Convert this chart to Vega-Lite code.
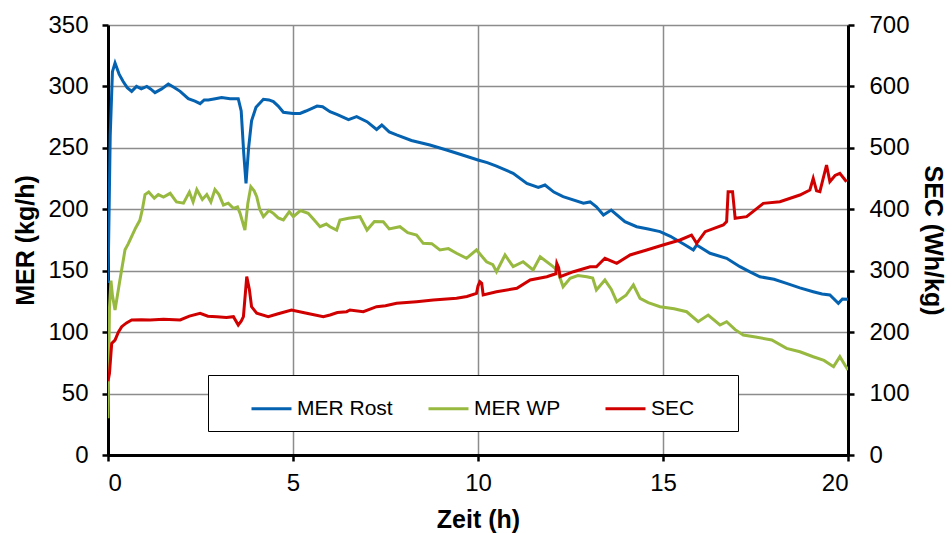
{
  "$schema": "https://vega.github.io/schema/vega-lite/v6.json",
  "width": 740,
  "height": 430,
  "autosize": "none",
  "padding": {"left": 108, "top": 25, "right": 104, "bottom": 78},
  "background": "white",
  "config": {
    "view": {"stroke": null},
    "font": "Liberation Sans",
    "axis": {
      "labelFont": "Liberation Sans",
      "titleFont": "Liberation Sans",
      "labelFontSize": 24,
      "titleFontSize": 25,
      "titleFontWeight": "bold",
      "labelColor": "black",
      "titleColor": "black",
      "domainColor": "black",
      "domainWidth": 3,
      "tickColor": "black",
      "tickWidth": 2.5,
      "tickSize": 6,
      "gridColor": "#8c8c8c",
      "gridWidth": 1.5,
      "gridOpacity": 1
    }
  },
  "data": {
    "values": [
      {"t":0,"v":140,"s":"MER Rost"},{"t":0.06,"v":260,"s":"MER Rost"},{"t":0.12,"v":312,"s":"MER Rost"},{"t":0.19,"v":319,"s":"MER Rost"},{"t":0.3,"v":310,"s":"MER Rost"},{"t":0.41,"v":304,"s":"MER Rost"},{"t":0.52,"v":299,"s":"MER Rost"},{"t":0.64,"v":296,"s":"MER Rost"},{"t":0.77,"v":300,"s":"MER Rost"},{"t":0.9,"v":298,"s":"MER Rost"},{"t":1.05,"v":300,"s":"MER Rost"},{"t":1.15,"v":298,"s":"MER Rost"},{"t":1.27,"v":295,"s":"MER Rost"},{"t":1.45,"v":298,"s":"MER Rost"},{"t":1.63,"v":302,"s":"MER Rost"},{"t":1.8,"v":299,"s":"MER Rost"},{"t":1.95,"v":296,"s":"MER Rost"},{"t":2.17,"v":290,"s":"MER Rost"},{"t":2.35,"v":288,"s":"MER Rost"},{"t":2.49,"v":286,"s":"MER Rost"},{"t":2.6,"v":289,"s":"MER Rost"},{"t":2.71,"v":289,"s":"MER Rost"},{"t":2.9,"v":290,"s":"MER Rost"},{"t":3.07,"v":291,"s":"MER Rost"},{"t":3.3,"v":290,"s":"MER Rost"},{"t":3.52,"v":290,"s":"MER Rost"},{"t":3.6,"v":280,"s":"MER Rost"},{"t":3.67,"v":245,"s":"MER Rost"},{"t":3.73,"v":221,"s":"MER Rost"},{"t":3.8,"v":250,"s":"MER Rost"},{"t":3.88,"v":272,"s":"MER Rost"},{"t":4.0,"v":283,"s":"MER Rost"},{"t":4.2,"v":289.5,"s":"MER Rost"},{"t":4.35,"v":289,"s":"MER Rost"},{"t":4.47,"v":287.6,"s":"MER Rost"},{"t":4.6,"v":284,"s":"MER Rost"},{"t":4.74,"v":279,"s":"MER Rost"},{"t":5.0,"v":278,"s":"MER Rost"},{"t":5.19,"v":278,"s":"MER Rost"},{"t":5.35,"v":280,"s":"MER Rost"},{"t":5.5,"v":282,"s":"MER Rost"},{"t":5.65,"v":284,"s":"MER Rost"},{"t":5.8,"v":283.5,"s":"MER Rost"},{"t":6.0,"v":279.4,"s":"MER Rost"},{"t":6.2,"v":277,"s":"MER Rost"},{"t":6.5,"v":273,"s":"MER Rost"},{"t":6.72,"v":275.4,"s":"MER Rost"},{"t":7.0,"v":271.3,"s":"MER Rost"},{"t":7.26,"v":265,"s":"MER Rost"},{"t":7.4,"v":268.6,"s":"MER Rost"},{"t":7.6,"v":263,"s":"MER Rost"},{"t":7.8,"v":260.5,"s":"MER Rost"},{"t":8.2,"v":256,"s":"MER Rost"},{"t":8.7,"v":252.3,"s":"MER Rost"},{"t":9.15,"v":248.3,"s":"MER Rost"},{"t":9.6,"v":244,"s":"MER Rost"},{"t":10.0,"v":240.1,"s":"MER Rost"},{"t":10.25,"v":238,"s":"MER Rost"},{"t":10.5,"v":235.2,"s":"MER Rost"},{"t":10.95,"v":229.3,"s":"MER Rost"},{"t":11.32,"v":221.1,"s":"MER Rost"},{"t":11.63,"v":217.9,"s":"MER Rost"},{"t":11.81,"v":219.8,"s":"MER Rost"},{"t":12.05,"v":214,"s":"MER Rost"},{"t":12.3,"v":210.3,"s":"MER Rost"},{"t":12.85,"v":205,"s":"MER Rost"},{"t":13.03,"v":206,"s":"MER Rost"},{"t":13.2,"v":202,"s":"MER Rost"},{"t":13.39,"v":195.3,"s":"MER Rost"},{"t":13.6,"v":199.4,"s":"MER Rost"},{"t":13.97,"v":189.9,"s":"MER Rost"},{"t":14.29,"v":185.8,"s":"MER Rost"},{"t":14.6,"v":184,"s":"MER Rost"},{"t":14.92,"v":181.8,"s":"MER Rost"},{"t":15.2,"v":178,"s":"MER Rost"},{"t":15.37,"v":175,"s":"MER Rost"},{"t":15.6,"v":171,"s":"MER Rost"},{"t":15.82,"v":166.9,"s":"MER Rost"},{"t":15.91,"v":170.9,"s":"MER Rost"},{"t":16.27,"v":164.2,"s":"MER Rost"},{"t":16.72,"v":160.1,"s":"MER Rost"},{"t":17.08,"v":153.3,"s":"MER Rost"},{"t":17.35,"v":149,"s":"MER Rost"},{"t":17.62,"v":145.1,"s":"MER Rost"},{"t":18.0,"v":143,"s":"MER Rost"},{"t":18.34,"v":139.7,"s":"MER Rost"},{"t":18.7,"v":136,"s":"MER Rost"},{"t":19.06,"v":132.9,"s":"MER Rost"},{"t":19.3,"v":131,"s":"MER Rost"},{"t":19.51,"v":130.2,"s":"MER Rost"},{"t":19.74,"v":123.5,"s":"MER Rost"},{"t":19.85,"v":127,"s":"MER Rost"},{"t":20.0,"v":126.7,"s":"MER Rost"},

      {"t":0,"v":30,"s":"MER WP"},{"t":0.04,"v":120,"s":"MER WP"},{"t":0.08,"v":142,"s":"MER WP"},{"t":0.12,"v":130,"s":"MER WP"},{"t":0.19,"v":118,"s":"MER WP"},{"t":0.32,"v":142,"s":"MER WP"},{"t":0.46,"v":167,"s":"MER WP"},{"t":0.55,"v":172,"s":"MER WP"},{"t":0.64,"v":178,"s":"MER WP"},{"t":0.75,"v":185,"s":"MER WP"},{"t":0.86,"v":191,"s":"MER WP"},{"t":0.93,"v":200,"s":"MER WP"},{"t":1.0,"v":212,"s":"MER WP"},{"t":1.1,"v":214,"s":"MER WP"},{"t":1.25,"v":209,"s":"MER WP"},{"t":1.36,"v":212,"s":"MER WP"},{"t":1.5,"v":210,"s":"MER WP"},{"t":1.68,"v":213,"s":"MER WP"},{"t":1.85,"v":206,"s":"MER WP"},{"t":2.04,"v":205,"s":"MER WP"},{"t":2.2,"v":214,"s":"MER WP"},{"t":2.3,"v":206,"s":"MER WP"},{"t":2.4,"v":216,"s":"MER WP"},{"t":2.55,"v":208,"s":"MER WP"},{"t":2.67,"v":212,"s":"MER WP"},{"t":2.78,"v":206,"s":"MER WP"},{"t":2.89,"v":216,"s":"MER WP"},{"t":3.0,"v":212,"s":"MER WP"},{"t":3.12,"v":203.5,"s":"MER WP"},{"t":3.25,"v":205,"s":"MER WP"},{"t":3.39,"v":200.8,"s":"MER WP"},{"t":3.5,"v":202,"s":"MER WP"},{"t":3.57,"v":196.7,"s":"MER WP"},{"t":3.7,"v":183,"s":"MER WP"},{"t":3.78,"v":205,"s":"MER WP"},{"t":3.86,"v":218.4,"s":"MER WP"},{"t":3.95,"v":215,"s":"MER WP"},{"t":4.02,"v":210.3,"s":"MER WP"},{"t":4.1,"v":200,"s":"MER WP"},{"t":4.2,"v":194,"s":"MER WP"},{"t":4.35,"v":199,"s":"MER WP"},{"t":4.47,"v":196.7,"s":"MER WP"},{"t":4.6,"v":193,"s":"MER WP"},{"t":4.74,"v":191.3,"s":"MER WP"},{"t":4.9,"v":198,"s":"MER WP"},{"t":5.01,"v":194,"s":"MER WP"},{"t":5.2,"v":199,"s":"MER WP"},{"t":5.41,"v":196.7,"s":"MER WP"},{"t":5.55,"v":192,"s":"MER WP"},{"t":5.73,"v":185.8,"s":"MER WP"},{"t":5.9,"v":188,"s":"MER WP"},{"t":6.0,"v":185.8,"s":"MER WP"},{"t":6.18,"v":183.1,"s":"MER WP"},{"t":6.27,"v":191.3,"s":"MER WP"},{"t":6.5,"v":192.7,"s":"MER WP"},{"t":6.81,"v":194,"s":"MER WP"},{"t":7.0,"v":183.1,"s":"MER WP"},{"t":7.2,"v":190,"s":"MER WP"},{"t":7.44,"v":189.9,"s":"MER WP"},{"t":7.6,"v":184,"s":"MER WP"},{"t":7.89,"v":185.8,"s":"MER WP"},{"t":8.1,"v":181,"s":"MER WP"},{"t":8.34,"v":179.1,"s":"MER WP"},{"t":8.52,"v":172.3,"s":"MER WP"},{"t":8.75,"v":172,"s":"MER WP"},{"t":8.97,"v":166.9,"s":"MER WP"},{"t":9.2,"v":168,"s":"MER WP"},{"t":9.42,"v":164.2,"s":"MER WP"},{"t":9.69,"v":160.1,"s":"MER WP"},{"t":9.96,"v":166.9,"s":"MER WP"},{"t":10.23,"v":157.3,"s":"MER WP"},{"t":10.4,"v":155,"s":"MER WP"},{"t":10.5,"v":149.2,"s":"MER WP"},{"t":10.73,"v":162.8,"s":"MER WP"},{"t":10.95,"v":153.3,"s":"MER WP"},{"t":11.22,"v":157.3,"s":"MER WP"},{"t":11.49,"v":150.6,"s":"MER WP"},{"t":11.68,"v":161.4,"s":"MER WP"},{"t":12.03,"v":153.3,"s":"MER WP"},{"t":12.15,"v":150,"s":"MER WP"},{"t":12.3,"v":137,"s":"MER WP"},{"t":12.49,"v":143.8,"s":"MER WP"},{"t":12.7,"v":146,"s":"MER WP"},{"t":12.94,"v":145.1,"s":"MER WP"},{"t":13.1,"v":144,"s":"MER WP"},{"t":13.2,"v":134.3,"s":"MER WP"},{"t":13.43,"v":142.4,"s":"MER WP"},{"t":13.6,"v":135,"s":"MER WP"},{"t":13.75,"v":124.8,"s":"MER WP"},{"t":14.0,"v":130,"s":"MER WP"},{"t":14.2,"v":138.4,"s":"MER WP"},{"t":14.38,"v":127.5,"s":"MER WP"},{"t":14.6,"v":124,"s":"MER WP"},{"t":14.92,"v":120.7,"s":"MER WP"},{"t":15.3,"v":119,"s":"MER WP"},{"t":15.64,"v":116.6,"s":"MER WP"},{"t":15.95,"v":108.5,"s":"MER WP"},{"t":16.22,"v":113.9,"s":"MER WP"},{"t":16.54,"v":105.8,"s":"MER WP"},{"t":16.72,"v":108.5,"s":"MER WP"},{"t":16.95,"v":102,"s":"MER WP"},{"t":17.17,"v":97.7,"s":"MER WP"},{"t":17.5,"v":96,"s":"MER WP"},{"t":17.94,"v":93.6,"s":"MER WP"},{"t":18.34,"v":86.8,"s":"MER WP"},{"t":18.7,"v":84,"s":"MER WP"},{"t":19.06,"v":80,"s":"MER WP"},{"t":19.35,"v":77,"s":"MER WP"},{"t":19.61,"v":71.9,"s":"MER WP"},{"t":19.78,"v":80,"s":"MER WP"},{"t":19.9,"v":74,"s":"MER WP"},{"t":20.0,"v":69.2,"s":"MER WP"},

      {"t":0,"v":120,"s":"SEC"},{"t":0.04,"v":133,"s":"SEC"},{"t":0.1,"v":181.8,"s":"SEC"},{"t":0.19,"v":187,"s":"SEC"},{"t":0.28,"v":200,"s":"SEC"},{"t":0.37,"v":208.9,"s":"SEC"},{"t":0.5,"v":215,"s":"SEC"},{"t":0.64,"v":219.8,"s":"SEC"},{"t":0.9,"v":220,"s":"SEC"},{"t":1.14,"v":219.8,"s":"SEC"},{"t":1.5,"v":221,"s":"SEC"},{"t":1.95,"v":219.8,"s":"SEC"},{"t":2.2,"v":226,"s":"SEC"},{"t":2.49,"v":230.7,"s":"SEC"},{"t":2.7,"v":226,"s":"SEC"},{"t":2.94,"v":225.2,"s":"SEC"},{"t":3.2,"v":224,"s":"SEC"},{"t":3.39,"v":225.2,"s":"SEC"},{"t":3.52,"v":211.6,"s":"SEC"},{"t":3.6,"v":218,"s":"SEC"},{"t":3.66,"v":225.2,"s":"SEC"},{"t":3.75,"v":290.3,"s":"SEC"},{"t":3.82,"v":270,"s":"SEC"},{"t":3.88,"v":241.4,"s":"SEC"},{"t":4.02,"v":230.7,"s":"SEC"},{"t":4.33,"v":225.2,"s":"SEC"},{"t":4.6,"v":230,"s":"SEC"},{"t":4.96,"v":236,"s":"SEC"},{"t":5.37,"v":230.7,"s":"SEC"},{"t":5.82,"v":225.2,"s":"SEC"},{"t":6.0,"v":227.9,"s":"SEC"},{"t":6.2,"v":232,"s":"SEC"},{"t":6.45,"v":233.3,"s":"SEC"},{"t":6.54,"v":236,"s":"SEC"},{"t":6.9,"v":233.3,"s":"SEC"},{"t":7.26,"v":241.4,"s":"SEC"},{"t":7.5,"v":243,"s":"SEC"},{"t":7.8,"v":247,"s":"SEC"},{"t":8.34,"v":249.6,"s":"SEC"},{"t":8.79,"v":252.3,"s":"SEC"},{"t":9.42,"v":255.1,"s":"SEC"},{"t":9.7,"v":258,"s":"SEC"},{"t":9.96,"v":263.2,"s":"SEC"},{"t":10.0,"v":275,"s":"SEC"},{"t":10.05,"v":282.1,"s":"SEC"},{"t":10.1,"v":279.5,"s":"SEC"},{"t":10.14,"v":260.5,"s":"SEC"},{"t":10.5,"v":265.8,"s":"SEC"},{"t":11.05,"v":271.3,"s":"SEC"},{"t":11.41,"v":284.9,"s":"SEC"},{"t":11.86,"v":290.3,"s":"SEC"},{"t":12.1,"v":295,"s":"SEC"},{"t":12.13,"v":312,"s":"SEC"},{"t":12.18,"v":305,"s":"SEC"},{"t":12.22,"v":290.3,"s":"SEC"},{"t":12.58,"v":298.4,"s":"SEC"},{"t":13.03,"v":306.5,"s":"SEC"},{"t":13.2,"v":306.5,"s":"SEC"},{"t":13.43,"v":320.2,"s":"SEC"},{"t":13.75,"v":312,"s":"SEC"},{"t":14.11,"v":325.6,"s":"SEC"},{"t":14.56,"v":333.7,"s":"SEC"},{"t":15.0,"v":341.9,"s":"SEC"},{"t":15.46,"v":350,"s":"SEC"},{"t":15.77,"v":358.1,"s":"SEC"},{"t":15.91,"v":344.6,"s":"SEC"},{"t":16.14,"v":363.5,"s":"SEC"},{"t":16.63,"v":374.4,"s":"SEC"},{"t":16.72,"v":380,"s":"SEC"},{"t":16.76,"v":428.6,"s":"SEC"},{"t":16.88,"v":428.6,"s":"SEC"},{"t":16.95,"v":385.3,"s":"SEC"},{"t":17.26,"v":388,"s":"SEC"},{"t":17.71,"v":409.7,"s":"SEC"},{"t":18.16,"v":412.3,"s":"SEC"},{"t":18.7,"v":423.2,"s":"SEC"},{"t":18.97,"v":431.4,"s":"SEC"},{"t":19.06,"v":450.4,"s":"SEC"},{"t":19.15,"v":430,"s":"SEC"},{"t":19.24,"v":428.6,"s":"SEC"},{"t":19.42,"v":472.1,"s":"SEC"},{"t":19.51,"v":444.9,"s":"SEC"},{"t":19.65,"v":455,"s":"SEC"},{"t":19.78,"v":458.6,"s":"SEC"},{"t":19.96,"v":444.9,"s":"SEC"}
    ]
  },
  "encoding": {
    "x": {
      "field": "t",
      "type": "quantitative",
      "scale": {"domain": [0, 20], "nice": false, "zero": false},
      "axis": {"values": [0, 5, 10, 15, 20], "title": "Zeit (h)", "labelPadding": 10, "titlePadding": 12}
    },
    "color": {
      "field": "s",
      "type": "nominal",
      "scale": {"domain": ["MER Rost", "MER WP", "SEC"], "range": ["#0462B0", "#98B940", "#D00000"]},
      "legend": {
        "title": "\u2002",
        "titleOrient": "right",
        "titlePadding": 32,
        "titleFontSize": 21,
        "orient": "none",
        "legendX": 100,
        "legendY": 350,
        "direction": "horizontal",
        "fillColor": "white",
        "strokeColor": "black",
        "padding": 12,
        "symbolType": "stroke",
        "symbolSize": 1600,
        "symbolStrokeWidth": 3,
        "symbolOffset": 30,
        "gridAlign": "all",
        "labelFont": "Liberation Sans",
        "labelFontSize": 21,
        "labelColor": "black",
        "labelOffset": 4,
        "columnPadding": 4,
        "labelLimit": 200
      }
    }
  },
  "layer": [
    {
      "transform": [{"filter": "datum.s != 'SEC'"}],
      "mark": {"type": "line", "strokeWidth": 3, "clip": true},
      "encoding": {
        "y": {
          "field": "v",
          "type": "quantitative",
          "scale": {"domain": [0, 350], "nice": false},
          "axis": {"values": [0, 50, 100, 150, 200, 250, 300, 350], "title": "MER (kg/h)", "labelPadding": 14, "titlePadding": 9, "orient": "left"}
        }
      }
    },
    {
      "transform": [{"filter": "datum.s == 'SEC'"}],
      "mark": {"type": "line", "strokeWidth": 3, "clip": true},
      "encoding": {
        "y": {
          "field": "v",
          "type": "quantitative",
          "scale": {"domain": [0, 700], "nice": false},
          "axis": {"values": [0, 100, 200, 300, 400, 500, 600, 700], "title": "SEC (Wh/kg)", "labelPadding": 15, "titlePadding": 10, "orient": "right", "grid": false}
        }
      }
    }
  ],
  "resolve": {"scale": {"y": "independent"}}
}
